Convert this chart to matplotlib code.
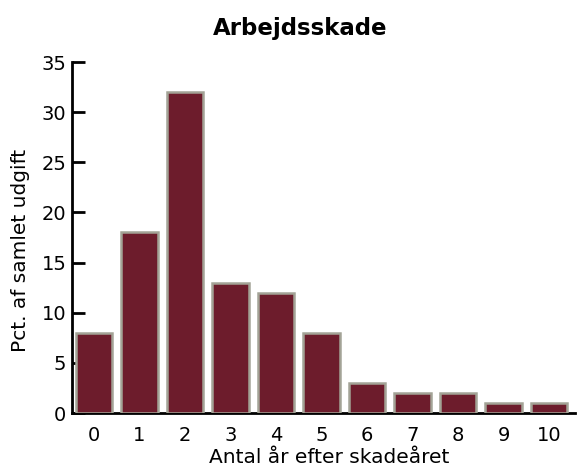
import matplotlib.pyplot as plt

years = [0, 1, 2, 3, 4, 5, 6, 7, 8, 9, 10]
pct = [8, 18, 32, 13, 12, 8, 3, 2, 2, 1, 1]
title = "Arbejdsskade"
xlabel = "Antal år efter skadeåret"
ylabel = "Pct. af samlet udgift"

plt.rcParams['font.family'] = ['DejaVu Sans']

fig = plt.figure(figsize=(5.77, 4.68), dpi=100)
ax = fig.add_axes([0.1248, 0.1175, 0.8717, 0.75])

ax.bar(years, pct, width=0.8, color='#6d1c2c', edgecolor='#a3a396', linewidth=1.8, zorder=3)

ax.set_xlim(-0.48, 10.57)
ax.set_ylim(0, 35)
ax.set_yticks(range(0, 36, 5))
ax.set_xticks(years)

for s in ['top', 'right']:
    ax.spines[s].set_visible(False)
ax.spines['left'].set_linewidth(2)
ax.spines['bottom'].set_linewidth(2)

ax.tick_params(axis='y', direction='in', length=9, width=2, labelsize=14, pad=4)
ax.tick_params(axis='x', length=0, labelsize=14, pad=9)

fig.text(0.52, 1 - 28 / 468, title, fontsize=16.5, fontweight='bold', ha='center', va='center')
ax.set_xlabel(xlabel, fontsize=14.5, va='center')
ax.set_ylabel(ylabel, fontsize=14.5, va='center')
ax.xaxis.set_label_coords(0.511, -0.127)
ax.yaxis.set_label_coords(-0.103, 0.464)

fig.savefig('out.png', dpi=100)
